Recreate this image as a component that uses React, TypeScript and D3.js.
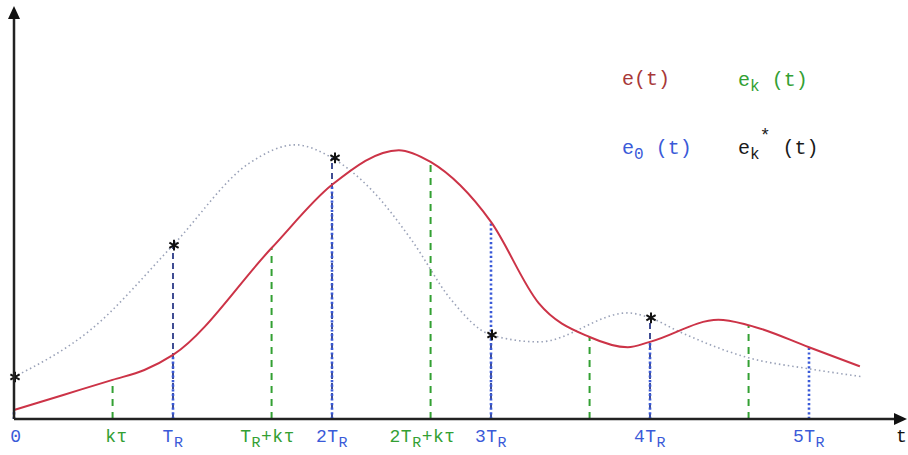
import React from "react";
import * as d3 from "d3";

// Time in units of T_R; kτ offset of the shifted samples.
const KTAU = 0.62;

// e(t): continuous error signal
const eTimes = [0, 0.31, 0.62, 0.82, 1.0, 1.62, 2.0, 2.42, 2.62, 3.0, 3.3, 3.62, 3.86, 4.0, 4.43, 4.62, 5.0, 5.32];
const eValues = [2.2, 5.9, 9.6, 12.0, 15.7, 41.9, 57.4, 65.9, 63.0, 48.3, 28.4, 20.1, 17.6, 18.9, 24.3, 23.0, 17.6, 12.9];

// e_k*(t): dotted reference curve
const ekTimes = [0, 0.48, 1.0, 1.48, 1.77, 2.0, 2.25, 2.5, 2.75, 3.0, 3.3, 3.86, 4.0, 4.19, 4.62, 5.0, 5.33];
const ekValues = [10.3, 21.8, 42.6, 62.7, 67.2, 64.0, 56.1, 43.9, 29.2, 20.6, 18.9, 26.0, 24.8, 21.3, 15.0, 12.3, 10.4];

// Sampling instants
const periodTicks = [0, 1, 2, 3, 4, 5];
const shiftedTicks = [0, 1, 2, 3, 4].map((n) => n + KTAU);
const starTicks = [0, 1, 2, 3, 4];

// Tick labels: [prefix, subscript, suffix]
const periodLabels: [string, string, string][] = [
  ["0", "", ""],
  ["T", "R", ""],
  ["2T", "R", ""],
  ["3T", "R", ""],
  ["4T", "R", ""],
  ["5T", "R", ""],
];
const shiftedLabels: [string, string, string][] = [
  ["kτ", "", ""],
  ["T", "R", "+kτ"],
  ["2T", "R", "+kτ"],
];

const W = 908;
const H = 455;
const X0 = 14;
const Y0 = 419;

const RED = "#cc3347";
const GREEN = "#33a033";
const BLUE = "#3a5ad8";
const NAVY = "#1f2f80";
const GREY = "#9aa2b8";
const FONT = "'Liberation Mono', 'DejaVu Sans Mono', monospace";

const x = d3.scaleLinear().domain([0, 5]).range([X0, 809]);
const y = d3.scaleLinear().domain([0, 100]).range([Y0, 11]);

const valueAt = (times: number[], values: number[], t: number) => {
  const i = times.findIndex((v) => Math.abs(v - t) < 1e-6);
  return values[i];
};

const line = d3
  .line<[number, number]>()
  .x((d) => x(d[0]))
  .y((d) => y(d[1]))
  .curve(d3.curveMonotoneX);

const ePath = line(eTimes.map((t, i) => [t, eValues[i]]))!;
const ekPath = line(ekTimes.map((t, i) => [t, ekValues[i]]))!;
const star = d3.symbol(d3.symbolAsterisk, 80)()!;

function Label({ cx, parts, color }: { cx: number; parts: [string, string, string]; color: string }) {
  const [a, sub, b] = parts;
  return (
    <text x={cx} y={442} textAnchor="middle" fill={color} fontFamily={FONT} fontSize={18} letterSpacing={0.5}>
      {a}
      {sub && (
        <tspan dy={5} fontSize={15}>
          {sub}
        </tspan>
      )}
      {b && <tspan dy={-5}>{b}</tspan>}
    </text>
  );
}

export default function App() {
  return (
    <svg width={W} height={H} style={{ position: "absolute", left: 0, top: 0, background: "#fff" }}>
      {/* dotted e_k*(t) curve */}
      <path d={ekPath} fill="none" stroke={GREY} strokeWidth={1.6} strokeDasharray="1.5 3" />

      {/* e_k*(t) sample lines */}
      {starTicks.map((t) => (
        <line key={"s" + t} x1={x(t)} x2={x(t)} y1={Y0} y2={y(valueAt(ekTimes, ekValues, t))}
          stroke={NAVY} strokeWidth={2} strokeDasharray="6 4" opacity={0.85} />
      ))}

      {/* e_0(t) sample lines */}
      {periodTicks.map((t) => (
        <line key={"p" + t} x1={x(t)} x2={x(t)} y1={Y0} y2={y(valueAt(eTimes, eValues, t))}
          stroke={BLUE} strokeWidth={2.6} strokeDasharray="2.2 2.4" />
      ))}

      {/* e_k(t) sample lines */}
      {shiftedTicks.map((t) => (
        <line key={"k" + t} x1={x(t)} x2={x(t)} y1={Y0} y2={y(valueAt(eTimes, eValues, t))}
          stroke={GREEN} strokeWidth={2} strokeDasharray="7 6" />
      ))}

      {/* continuous e(t) */}
      <path d={ePath} fill="none" stroke={RED} strokeWidth={2} />

      {/* sample markers */}
      {starTicks.map((t) => (
        <path key={"m" + t} d={star} transform={`translate(${x(t) + (t === 2 ? 3 : 1)},${y(valueAt(ekTimes, ekValues, t))})`}
          fill="none" stroke="#111" strokeWidth={2} />
      ))}

      {/* axes */}
      <line x1={X0} y1={Y0} x2={X0} y2={18} stroke="#222" strokeWidth={2.5} />
      <path d={`M${X0},6 L${X0 - 6},19 L${X0 + 6},19 Z`} fill="#111" />
      <line x1={X0} y1={Y0} x2={896} y2={Y0} stroke="#222" strokeWidth={2.5} />
      <path d={`M907,${Y0} L894,${Y0 - 6} L894,${Y0 + 6} Z`} fill="#111" />

      {/* tick labels */}
      {periodTicks.map((t, i) => (
        <Label key={"pl" + t} cx={x(t) + (t === 0 ? 2 : 0)} parts={periodLabels[i]} color={BLUE} />
      ))}
      {shiftedLabels.map((p, i) => (
        <Label key={"kl" + i} cx={x(shiftedTicks[i]) + (i === 2 ? -8 : i === 0 ? 4 : -4)} parts={p} color={GREEN} />
      ))}
      <text x={896} y={442} fontFamily={FONT} fontSize={18} fill="#111">t</text>

      {/* legend */}
      <g fontFamily={FONT} fontSize={20}>
        <text x={622} y={85} fill="#a83838">e(t)</text>
        <text x={738} y={86} fill={GREEN}>
          e<tspan dy={5} fontSize={16}>k</tspan><tspan dy={-5}> (t)</tspan>
        </text>
        <text x={622} y={154} fill={BLUE}>
          e<tspan dy={5} fontSize={16}>0</tspan><tspan dy={-5}> (t)</tspan>
        </text>
        <text x={738} y={154} fill="#1a1a1a">
          e<tspan dy={5} fontSize={16}>k</tspan>
          <tspan dy={-18} fontSize={18}>*</tspan>
          <tspan dy={13}> (t)</tspan>
        </text>
      </g>
    </svg>
  );
}
